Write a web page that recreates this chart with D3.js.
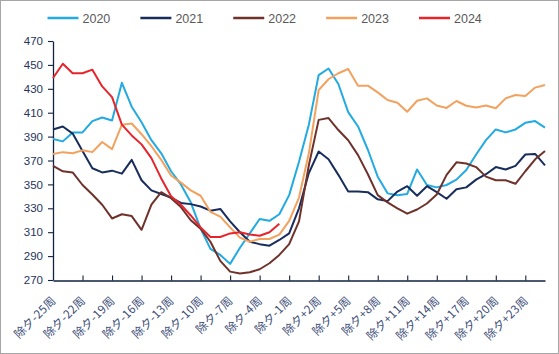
<!DOCTYPE html>
<html>
<head>
<meta charset="utf-8">
<script src="https://cdn.jsdelivr.net/npm/d3@7/dist/d3.min.js"></script>
<style>
  html, body { margin: 0; padding: 0; background: #fff; }
  svg { display: block; }
</style>
</head>
<body>
<svg id="chart" width="559" height="354"></svg>
<script>
const categories = [
  "除夕-25周","除夕-24周","除夕-23周","除夕-22周","除夕-21周","除夕-20周","除夕-19周","除夕-18周","除夕-17周","除夕-16周",
  "除夕-15周","除夕-14周","除夕-13周","除夕-12周","除夕-11周","除夕-10周","除夕-9周","除夕-8周","除夕-7周","除夕-6周",
  "除夕-5周","除夕-4周","除夕-3周","除夕-2周","除夕-1周","除夕","除夕+1周","除夕+2周","除夕+3周","除夕+4周",
  "除夕+5周","除夕+6周","除夕+7周","除夕+8周","除夕+9周","除夕+10周","除夕+11周","除夕+12周","除夕+13周","除夕+14周",
  "除夕+15周","除夕+16周","除夕+17周","除夕+18周","除夕+19周","除夕+20周","除夕+21周","除夕+22周","除夕+23周","除夕+24周",
  "除夕+25周"
];
const seriesNames = ["2020", "2021", "2022", "2023", "2024"];
const values2020 = [388,386,393.5,393.5,403,406,403.5,435,415,402,387,376,361,350,335,313,296,291,283.5,297,309,321,319.5,325,341,369,400,441.5,447,434,410.5,398.5,379,356.5,342.5,341,342,362.5,349.5,347.5,349.5,354,362,375,387,396,393.5,396,401.5,403,397.5];
const values2021 = [396,398.5,392.5,378,363.5,360,361.5,359,370.5,353.5,345,342,339,334.5,333.5,331.5,328,329.5,319,310,302,300,298.7,303.5,309,330,359.5,377.5,371,358,344,344,343.5,337.5,336,344,348.5,340.5,348.5,343.5,338,346,347.5,354,358.5,364.5,362.5,365.5,375,375.5,366];
const values2022 = [365.5,361,360,349.5,341.5,333,321.5,325,323.5,312,333,343.5,338.5,331,320,313,302,286,277,275.5,276.5,279,284,291,300,319,366,404,405.5,395.5,387,374.5,358.5,341,335,330,325.5,329,334,341.5,358,368.5,367.5,364.5,356.5,353.5,353.5,350.5,361,371,378];
const values2023 = [375.5,377,376,378.5,377,385.5,379.5,400,401,392,382,370.5,357.5,351.5,345,340.5,327,323,314,305.5,302,304.3,304.3,308,319.5,339,376,429,438,443,446.6,432.6,432.6,427,420.6,418.4,410.8,420,422,416,414,419.8,415.8,414.3,416,413.7,422,424.8,424,431,433.2];
const values2024 = [439,451,443,443,446,432,423,400,391,383.5,372,355,340,333,324,314,306,306,309,310,308,307,310,317];
const yTicks = [270,290,310,330,350,370,390,410,430,450,470];
const xTickEvery = 3;
const colors = ["#22aae1", "#182d5c", "#6e322b", "#f2a25e", "#e5242b"];

const allValues = [values2020, values2021, values2022, values2023, values2024];
const series = seriesNames.map((name, k) => ({ name, color: colors[k], values: allValues[k] }));

const svg = d3.select("#chart");
const W = 559, H = 354;
const mLeft = 53, mRight = 545, mTop = 41, mBottom = 280;

svg.append("rect").attr("x", 0.5).attr("y", 0.5).attr("width", W - 1).attr("height", H - 1)
  .attr("fill", "#fff").attr("stroke", "#a6a6a6").attr("stroke-width", 1);

const x = d3.scalePoint().domain(d3.range(categories.length)).range([mLeft, mRight]);
const y = d3.scaleLinear().domain([270, 470]).range([mBottom, mTop]);

// Y axis
const yAxis = svg.append("g").attr("transform", `translate(${mLeft},0)`)
  .call(d3.axisLeft(y).tickValues(yTicks).tickSize(5).tickSizeOuter(0).tickPadding(5).tickFormat(d3.format("d")));
yAxis.select(".domain").attr("stroke", "#12213f").attr("stroke-width", 1.3);
yAxis.selectAll(".tick line").attr("stroke", "#12213f").attr("stroke-width", 1.1);
yAxis.selectAll(".tick text").attr("fill", "#24345c")
  .style("font-family", "'Liberation Sans', Arial, sans-serif").style("font-size", "11.5px");

// X axis
const xTickVals = d3.range(0, categories.length, xTickEvery);
const xAxis = svg.append("g").attr("transform", `translate(0,${mBottom + 0.5})`)
  .call(d3.axisBottom(x).tickValues(xTickVals).tickSize(-5).tickSizeOuter(0).tickFormat(i => categories[i]));
xAxis.select(".domain").attr("stroke", "#12213f").attr("stroke-width", 1.3);
xAxis.selectAll(".tick line").attr("stroke", "#12213f").attr("stroke-width", 1.1);
xAxis.selectAll(".tick").filter(d => d === 0).select("line").remove();
xAxis.selectAll(".tick text")
  .attr("y", 0).attr("dy", 0).attr("x", 0)
  .attr("transform", "translate(3,21) rotate(-45)")
  .attr("text-anchor", "end")
  .attr("fill", "#3a4b75")
  .style("font-family", "'Noto Sans CJK SC', sans-serif").style("font-size", "11.5px")
  .style("letter-spacing", "0.3px");

// Lines
const line = d3.line().x((d, i) => x(i)).y(d => y(d));
svg.append("g").selectAll("path").data(series).join("path")
  .attr("d", s => line(s.values))
  .attr("fill", "none")
  .attr("stroke", s => s.color)
  .attr("stroke-width", 2)
  .attr("stroke-linejoin", "round");

// Legend
const legendX = d3.scalePoint().domain(seriesNames).range([47.5, 419]);
const lg = svg.append("g").selectAll("g").data(series).join("g")
  .attr("transform", s => `translate(${legendX(s.name)},18)`);
lg.append("line").attr("x1", 0).attr("x2", 31).attr("y1", 0).attr("y2", 0)
  .attr("stroke", s => s.color).attr("stroke-width", 2.5);
lg.append("text").attr("x", 35).attr("y", 0).attr("dy", "0.36em")
  .text(s => s.name).attr("fill", "#595959")
  .style("font-family", "'Liberation Sans', Arial, sans-serif").style("font-size", "12.5px");
</script>
</body>
</html>
